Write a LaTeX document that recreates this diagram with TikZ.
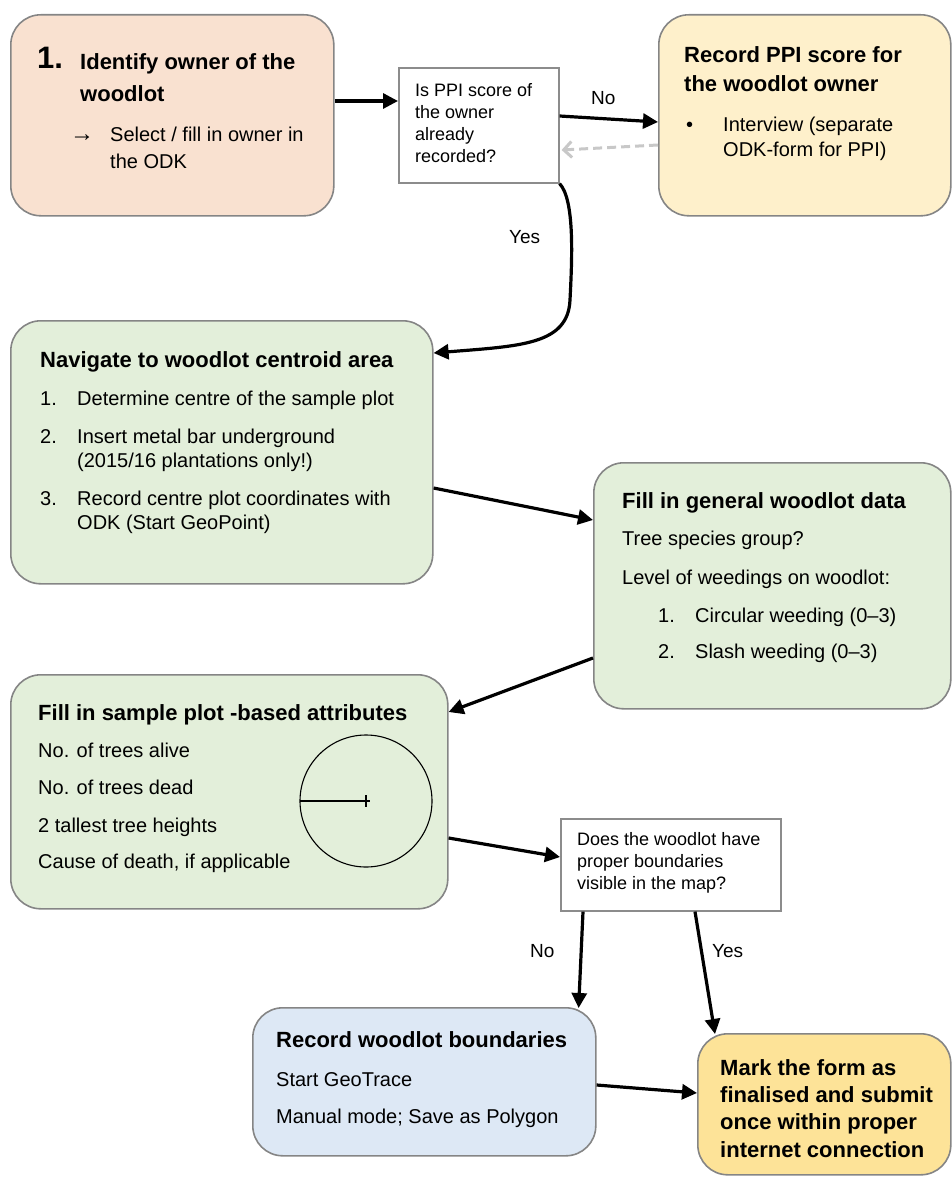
\documentclass[tikz,border=0pt]{standalone}
\usepackage{fontspec}
\setmainfont{Liberation Sans}
\usetikzlibrary{arrows.meta,calc}
\definecolor{boxgray}{HTML}{858585}
\definecolor{qgray}{HTML}{8C8C8C}
\definecolor{peach}{HTML}{F9E1D0}
\definecolor{ppiyel}{HTML}{FEF0CB}
\definecolor{lgreen}{HTML}{E3EFDA}
\definecolor{lblue}{HTML}{DDE8F5}
\definecolor{finyel}{HTML}{FDE398}
\definecolor{dashgray}{HTML}{C8C8C8}
\begin{document}
\begin{tikzpicture}[x=1pt,y=-1pt,
  box/.style={draw=boxgray,line width=1.6pt,rounded corners=30pt,anchor=north west,inner sep=0pt},
  qbox/.style={draw=qgray,line width=1.6pt,fill=white,anchor=north west,inner sep=0pt},
  txt/.style={anchor=base west,inner sep=0pt,font=\fontsize{20}{25}\selectfont},
  ttl/.style={anchor=base west,inner sep=0pt,font=\fontsize{22}{28}\selectfont\bfseries},
  qtxt/.style={anchor=base west,inner sep=0pt,font=\fontsize{18}{22}\selectfont},
  lbl/.style={anchor=base west,inner sep=0pt,font=\fontsize{19}{23}\selectfont},
  conn/.style={line width=3.2pt,-{Triangle[length=15pt,width=15pt]}},
  dconn/.style={line width=3pt,dashgray,dash pattern=on 9pt off 5pt,-{Straight Barb[length=8pt,width=16pt,line width=3pt]}}
]
\useasboundingbox (0,0) rectangle (952,1177);

% boxes
\node[box,fill=peach,minimum width=323pt,minimum height=201pt] (b1) at (10,14) {};
\node[qbox,minimum width=160pt,minimum height=115pt] (d1) at (398,67) {};
\node[box,fill=ppiyel,minimum width=292pt,minimum height=201pt] (b2) at (658,14) {};
\node[box,fill=lgreen,minimum width=422pt,minimum height=263pt] (b3) at (10,320) {};
\node[box,fill=lgreen,minimum width=357pt,minimum height=246pt] (b4) at (593,462) {};
\node[box,fill=lgreen,minimum width=437pt,minimum height=234pt] (b5) at (10,674) {};
\node[qbox,minimum width=220pt,minimum height=92pt] (d2) at (560,818) {};
\node[box,fill=lblue,minimum width=343pt,minimum height=148pt] (b6) at (252,1007) {};
\node[box,fill=finyel,minimum width=253pt,minimum height=141pt] (b7) at (697,1033) {};

% box 1 text
\node[anchor=base west,inner sep=0pt,font=\fontsize{31}{31}\selectfont\bfseries] (t1n) at (37,69) {1.};
\node[ttl] (t1a) at (80,70) {Identify owner of the};
\node[ttl] (t1b) at (80,102) {woodlot};
\node[anchor=base west,inner sep=0pt,font=\fontsize{24}{25}\selectfont] (t1c) at (70,142) {→};
\node[txt] (t1d) at (110,142) {Select / fill in owner in};
\node[txt] (t1e) at (110,168) {the ODK};

% decision 1 text
\node[qtxt] (q1a) at (415,97) {Is PPI score of};
\node[qtxt] (q1b) at (415,119) {the owner};
\node[qtxt] (q1c) at (415,141) {already};
\node[qtxt] (q1d) at (415,163) {recorded?};

% PPI box text
\node[ttl] (t2a) at (684,63) {Record PPI score for};
\node[ttl] (t2b) at (684,92) {the woodlot owner};
\node[txt] (t2c) at (686,132) {•};
\node[txt] (t2d) at (723,132) {Interview (separate};
\node[txt] (t2e) at (723,157) {ODK-form for PPI)};

% navigate box text
\node[ttl] (t3a) at (40,367) {Navigate to woodlot centroid area};
\node[txt] (t3b) at (40,405) {1.};
\node[txt] (t3c) at (77,405) {Determine centre of the sample plot};
\node[txt] (t3d) at (40,443) {2.};
\node[txt] (t3e) at (77,443) {Insert metal bar underground};
\node[txt] (t3f) at (77,467) {(2015/16 plantations only!)};
\node[txt] (t3g) at (40,505) {3.};
\node[txt] (t3h) at (77,505) {Record centre plot coordinates with};
\node[txt] (t3i) at (77,529) {ODK (Start GeoPoint)};

% general box text
\node[ttl] (t4a) at (622,508) {Fill in general woodlot data};
\node[txt] (t4b) at (622,545) {Tree species group?};
\node[txt] (t4c) at (622,584) {Level of weedings on woodlot:};
\node[txt] (t4d) at (658,622) {1.};
\node[txt] (t4e) at (695,622) {Circular weeding (0--3)};
\node[txt] (t4f) at (658,658) {2.};
\node[txt] (t4g) at (695,658) {Slash weeding (0--3)};

% sample plot box text
\node[ttl] (t5a) at (38,720) {Fill in sample plot -based attributes};
\node[txt] (t5b) at (38,757) {No. of trees alive};
\node[txt] (t5c) at (38,794) {No. of trees dead};
\node[txt] (t5d) at (38,832) {2 tallest tree heights};
\node[txt] (t5e) at (38,868) {Cause of death, if applicable};
\coordinate (cc) at (366,801);
\draw[line width=1.1pt] (cc) circle (66pt);
\draw[line width=1.2pt] ($(cc)+(-66,0)$) -- ($(cc)+(4,0)$);
\draw[line width=1.2pt] ($(cc)+(0,-6)$) -- ($(cc)+(0,6)$);

% decision 2 text
\node[qtxt] (q2a) at (577,845) {Does the woodlot have};
\node[qtxt] (q2b) at (577,867) {proper boundaries};
\node[qtxt] (q2c) at (577,889) {visible in the map?};

% blue box text
\node[ttl] (t6a) at (276,1047) {Record woodlot boundaries};
\node[txt] (t6b) at (276,1086) {Start GeoTrace};
\node[txt] (t6c) at (276,1123) {Manual mode; Save as Polygon};

% final box text
\node[ttl] (t7a) at (720,1075) {Mark the form as};
\node[ttl] (t7b) at (720,1102) {finalised and submit};
\node[ttl] (t7c) at (720,1129) {once within proper};
\node[ttl] (t7d) at (720,1157) {internet connection};

% labels
\node[lbl] (lno1) at (591,105) {No};
\node[lbl] (lyes1) at (509,243) {Yes};
\node[lbl] (lno2) at (530,957) {No};
\node[lbl] (lyes2) at (712,957) {Yes};

% connectors
\draw[conn] ($(b1.north east)+(0,87)$) -- ($(d1.north west)+(0,34)$);
\draw[conn] ($(d1.north east)+(0,49)$) -- ($(b2.north west)+(0,108)$);
\draw[dconn] ($(b2.north west)+(0,131)$) -- ($(d1.north east)+(2,83)$);
\draw[conn] (d1.south east) .. controls (575,200) and (572,260) .. (570,300)
  .. controls (568,345) and (520,346) .. ($(b3.north east)+(0,33)$);
\draw[conn] ($(b3.north east)+(0,168)$) -- ($(b4.north west)+(0,58)$);
\draw[conn] ($(b4.north west)+(0,196)$) -- ($(b5.north east)+(0,38)$);
\draw[conn] ($(b5.north east)+(0,164)$) -- ($(d2.north west)+(0,39)$);
\draw[conn] ($(d2.south west)+(23,0)$) -- ($(b6.north east)+(-18,1)$);
\draw[conn] ($(d2.south west)+(135,0)$) -- ($(b7.north west)+(18,1)$);
\draw[conn] ($(b6.north east)+(0,78)$) -- ($(b7.north west)+(0,60)$);
\end{tikzpicture}
\end{document}
